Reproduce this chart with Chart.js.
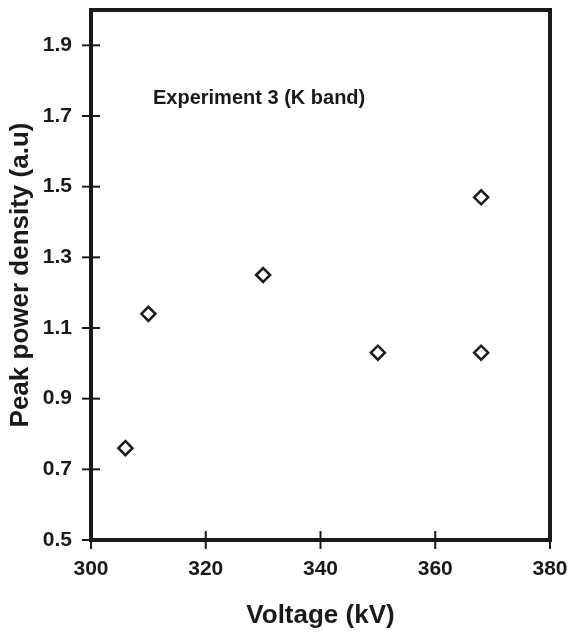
<!DOCTYPE html>
<html>
<head>
<meta charset="utf-8">
<script src="https://cdn.jsdelivr.net/npm/chart.js@4.4.1/dist/chart.umd.min.js"></script>
<style>
  html, body { margin: 0; padding: 0; background: #fff; }
  #wrap { width: 570px; height: 635px; }
</style>
</head>
<body>
<div id="wrap"><canvas id="chart" width="570" height="635"></canvas></div>
<script>
const voltage = [306, 310, 330, 350, 368, 368];
const peakPower = [0.76, 1.14, 1.25, 1.03, 1.47, 1.03];
const xTicks = [300, 320, 340, 360, 380];
const yTicks = [0.5, 0.7, 0.9, 1.1, 1.3, 1.5, 1.7, 1.9];
const note = 'Experiment 3 (K band)';

const ink = '#1a1a1a';
const fontFamily = '"Liberation Sans", Arial, sans-serif';

// frame, crossing tick marks and the note inside the plot
const framePlugin = {
    id: 'frame',
    afterDraw(chart) {
        const { ctx, chartArea: a, scales: { x, y } } = chart;
        ctx.save();
        ctx.strokeStyle = ink;
        ctx.lineWidth = 2;
        xTicks.forEach(v => {
            const px = x.getPixelForValue(v);
            ctx.beginPath();
            ctx.moveTo(px, a.bottom - 9);
            ctx.lineTo(px, a.bottom + 9);
            ctx.stroke();
        });
        yTicks.forEach(v => {
            const py = y.getPixelForValue(v);
            ctx.beginPath();
            ctx.moveTo(a.left - 9, py);
            ctx.lineTo(a.left + 9, py);
            ctx.stroke();
        });
        ctx.lineWidth = 4;
        ctx.strokeRect(a.left, a.top, a.right - a.left, a.bottom - a.top);

        ctx.fillStyle = ink;
        ctx.font = 'bold 20px ' + fontFamily;
        ctx.textAlign = 'left';
        ctx.textBaseline = 'middle';
        ctx.fillText(note, x.getPixelForValue(310.8), y.getPixelForValue(1.75));
        ctx.restore();
    }
};

new Chart(document.getElementById('chart'), {
    type: 'scatter',
    data: {
        datasets: [{
            data: voltage.map((v, i) => ({ x: v, y: peakPower[i] })),
            pointStyle: 'rectRot',
            pointRadius: 7,
            pointBorderWidth: 2.5,
            pointBackgroundColor: '#fff',
            pointBorderColor: ink
        }]
    },
    options: {
        responsive: false,
        animation: false,
        layout: { padding: { left: 0, top: 10, right: 20, bottom: 0 } },
        plugins: { legend: { display: false }, tooltip: { enabled: false } },
        scales: {
            x: {
                type: 'linear',
                min: 300,
                max: 380,
                afterBuildTicks: s => { s.ticks = xTicks.map(v => ({ value: v })); },
                afterFit: s => { s.height = 95; s.paddingLeft = 0; s.paddingRight = 0; },
                grid: { display: false, drawTicks: false },
                border: { display: false },
                ticks: {
                    padding: 17,
                    color: ink,
                    font: { family: fontFamily, size: 21, weight: 'bold' },
                    maxRotation: 0
                },
                title: {
                    display: true,
                    text: 'Voltage (kV)',
                    color: ink,
                    padding: { top: 0, bottom: 4 },
                    font: { family: fontFamily, size: 26, weight: 'bold' }
                }
            },
            y: {
                type: 'linear',
                min: 0.5,
                max: 2.0,
                afterBuildTicks: s => { s.ticks = yTicks.map(v => ({ value: v })); },
                afterFit: s => { s.width = 91; s.paddingTop = 0; s.paddingBottom = 0; },
                grid: { display: false, drawTicks: false },
                border: { display: false },
                ticks: {
                    padding: 19,
                    color: ink,
                    font: { family: fontFamily, size: 21, weight: 'bold' },
                    callback: v => v.toFixed(1)
                },
                title: {
                    display: true,
                    text: 'Peak power density (a.u)',
                    color: ink,
                    padding: { top: 5, bottom: 0 },
                    font: { family: fontFamily, size: 26, weight: 'bold' }
                }
            }
        }
    },
    plugins: [framePlugin]
});
</script>
</body>
</html>
